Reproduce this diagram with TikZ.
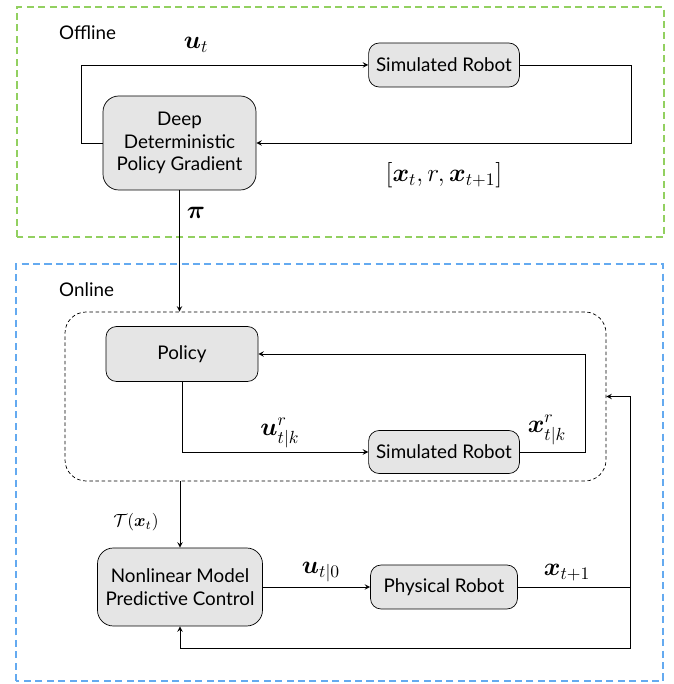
\documentclass[tikz,border=0pt]{standalone}
\usepackage{amsmath,amssymb}
\usepackage{fontspec}
\setmainfont{Lato}
\usepackage{tikz}
\usetikzlibrary{positioning,arrows}
\definecolor{offgreen}{RGB}{146,208,96}
\definecolor{onblue}{RGB}{100,170,240}
\tikzset{blk/.style={rectangle,draw,rounded corners=6pt,fill=black!10,align=center,inner sep=0.15cm,font=\fontsize{10.7}{13}\selectfont}}
\tikzset{zone/.style={dashed,line width=1.1pt,dash pattern=on 4pt off 2.5pt}}
\tikzset{lbl/.style={font=\Large}}
\tikzset{tag/.style={anchor=west,font=\fontsize{10.7}{13}\selectfont}}

\begin{document}
\begin{tikzpicture}[>=stealth]
        \useasboundingbox (0,0) rectangle (13.48,13.68);
        \draw[zone,offgreen] (0.34,8.94) rectangle (13.28,13.54);
        \draw[zone,onblue] (0.32,0.06) rectangle (13.26,8.40);
        \node[tag] (off) at (1.06,13.02) {Offline};
        \node[tag] (on) at (1.06,7.88) {Online};

        \node[draw,dashed,dash pattern=on 2pt off 1.5pt,rounded corners=12pt,minimum width=10.82cm,minimum height=3.38cm] (inner) at (6.71,5.75) {};
        \node[blk,minimum width=2.94cm,minimum height=0.88cm] (simtop) at (8.88,12.38) {Simulated Robot};
        \node[blk,minimum width=3.06cm,minimum height=1.88cm,rounded corners=9pt] (ddpg) at (3.59,10.82) {Deep\\Deterministic\\Policy Gradient};
        \node[blk,minimum width=3.04cm,minimum height=1.1cm] (policy) at (3.64,6.60) {Policy};
        \node[blk,minimum width=2.94cm,minimum height=0.86cm] (siminner) at (8.88,4.64) {Simulated Robot};
        \node[blk,minimum width=3.3cm,minimum height=1.56cm,rounded corners=9pt] (nmpc) at (3.60,1.94) {Nonlinear Model\\Predictive Control};
        \node[blk,minimum width=2.94cm,minimum height=0.88cm] (phys) at (8.88,1.94) {Physical Robot};

        \coordinate (c1) at (1.62,10.82);
        \coordinate (c2) at (12.62,10.82);
        \coordinate (c3) at (11.70,6.60);
        \coordinate (c4) at (12.60,0.72);
        \coordinate (c5) at (12.60,5.75);

        \node[lbl] (ut) at (3.92,12.78) {$\boldsymbol{u}_t$};
        \node[lbl] (tr) at (8.88,10.18) {$[\boldsymbol{x}_t, r, \boldsymbol{x}_{t+1}]$};
        \node[lbl] (pi) at (3.92,9.42) {$\boldsymbol{\pi}$};
        \node[lbl] (ur) at (5.60,5.02) {$\boldsymbol{u}^r_{t|k}$};
        \node[lbl] (xr) at (10.94,5.08) {$\boldsymbol{x}^r_{t|k}$};
        \node[] (tx) at (2.72,3.24) {$\mathcal{T}(\boldsymbol{x}_t)$};
        \node[lbl] (u0) at (6.42,2.24) {$\boldsymbol{u}_{t|0}$};
        \node[lbl] (xn) at (11.34,2.22) {$\boldsymbol{x}_{t+1}$};

        \draw [->] (ddpg.west) -- (c1) |- (simtop.west);
        \draw [->] (simtop.east) -| (c2) -- (ddpg.east);
        \draw [->] (ddpg.south) -- (ddpg.south |- inner.north);
        \draw [->] (policy.south) |- (siminner.west);
        \draw [->] (siminner.east) -| (c3) -- (policy.east);
        \draw [->] (nmpc.north |- inner.south) -- (nmpc.north);
        \draw [->] (nmpc.east) -- (phys.west);
        \draw [->] (phys.east) -| (c5) -- (inner.east);
        \draw [->] (phys.east) -| (c4) -| (nmpc.south);

\end{tikzpicture}
\end{document}
